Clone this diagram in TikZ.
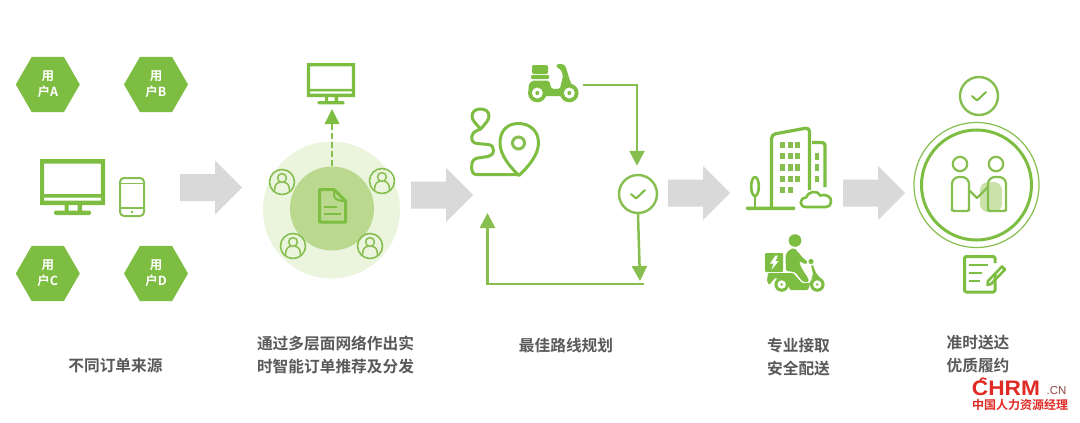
\documentclass[tikz,border=0pt]{standalone}
\usepackage{fontspec}
\setmainfont{Noto Sans CJK SC}[BoldFont={Noto Sans CJK SC Bold}]
\newfontfamily\logofont{Liberation Sans}
\usetikzlibrary{arrows.meta,shapes.geometric,calc}
\definecolor{gr}{HTML}{7DBD42}
\definecolor{grl}{HTML}{86BF4F}
\definecolor{pale}{HTML}{EBF4DC}
\definecolor{mid}{HTML}{BAD98F}
\definecolor{txt}{HTML}{595959}
\definecolor{logored}{HTML}{E02A26}
\tikzset{
  hexnode/.style={regular polygon,regular polygon sides=6,fill=gr,minimum size=64pt,inner sep=0pt,
    text=white,font=\bfseries\fontsize{12.5}{16}\selectfont,align=center},
  bigarrow/.style={fill=black!15,draw=none},
  caption/.style={text=txt,font=\bfseries\fontsize{15.7}{23}\selectfont,align=center},
  ln/.style={draw=grl,line width=2.5pt},
  tipped/.style={ln,-{Triangle[length=15pt,width=15pt]}},
  checkring/.style={circle,draw=grl,line width=2.4pt,minimum size=38pt,inner sep=0pt},
  userring/.style={circle,draw=grl,line width=1.6pt,minimum size=25pt,inner sep=0pt},
  icon/.style={draw=gr,line width=2pt,line join=round,line cap=round}
}
\newcommand{\myarrow}[2]{\fill[bigarrow] (#1,#2-13.5) -- (#1+35,#2-13.5) -- (#1+35,#2-27) -- (#1+62,#2) -- (#1+35,#2+27) -- (#1+35,#2+13.5) -- (#1,#2+13.5) -- cycle;}
\newcommand{\mymonitor}[3]{\begin{scope}[shift={(#1,#2)},scale=#3]
  \fill[gr,even odd rule] (-32.5,0) rectangle (32.5,46) (-28.3,4.5) rectangle (28.3,35) (-28.3,38.5) rectangle (28.3,41.5);
  \fill[gr] (-8,46) rectangle (-4,52) (5,46) rectangle (9.5,52);
  \fill[gr,rounded corners=2pt] (-18.5,51.5) rectangle (18.5,56);
\end{scope}}
\newcommand{\myuser}[1]{\begin{scope}[shift={(#1)}]
  \draw[grl,line width=1.5pt] (0,-4) circle (4.4);
  \draw[grl,line width=1.5pt,line cap=round] (-7.5,8.5) .. controls (-7.5,2) and (-4,0.5) .. (-2.5,0.5) (2.5,0.5) .. controls (4,0.5) and (7.5,2) .. (7.5,8.5);
\end{scope}}
\newcommand{\mycheck}[1]{\draw[icon,line width=2pt] ($(#1)+(-7,0)$) -- ($(#1)+(-2,4.5)$) -- ($(#1)+(7,-4)$);}
\begin{document}
\begin{tikzpicture}[x=1pt,y=-1pt]
\useasboundingbox (0,0) rectangle (1080,423);
\fill[white] (0,0) rectangle (1080,423);

% users
\node[hexnode] (ua) at (47.8,84.5) {用\\户A};
\node[hexnode] (ub) at (156,84.5) {用\\户B};
\node[hexnode] (uc) at (47.8,273.5) {用\\户C};
\node[hexnode] (ud) at (156,273.5) {用\\户D};
\mymonitor{72.5}{159}{1}
\draw[grl,line width=2pt,rounded corners=4pt] (120,178) rectangle (144,216);
\draw[grl,line width=1.6pt] (120,183.5) -- (144,183.5) (120,208) -- (144,208);
\fill[gr] (132,212) circle (1.3);
\myarrow{180}{187.5}

% step 2
\node[circle,fill=pale,minimum size=137pt,inner sep=0pt] (outer) at (331.5,210) {};
\node[circle,fill=mid,minimum size=84pt,inner sep=0pt] (inner) at (332,208.5) {};
\node[userring] (u1) at (282,182) {}; \myuser{282,182}
\node[userring] (u2) at (382,181) {}; \myuser{382,181}
\node[userring] (u3) at (293,246) {}; \myuser{293,246}
\node[userring] (u4) at (370,246) {}; \myuser{370,246}
\draw[icon,line width=3pt] (319.5,189.5) -- (334,189.5) -- (345.5,201) -- (345.5,222) -- (319.5,222) -- cycle;
\draw[icon,line width=2pt] (334,189.5) -- (334,195) .. controls (334,199) and (338,201) .. (345.5,201);
\draw[icon,line width=2.4pt,line cap=butt] (324,206.7) -- (337,206.7) (324,214) -- (341,214);
\mymonitor{331}{63}{0.74}
\coordinate (montip) at (332,109);
\draw[grl,line width=2.5pt,dash pattern=on 6pt off 3pt] (inner.north) -- (332,124);
\fill[gr] (montip) -- (339.5,124) -- (324.5,124) -- cycle;
\myarrow{411}{195}

% step 3
\node[minimum width=49pt,minimum height=39pt,inner sep=0pt] (scooter) at (552.5,84) {};
\fill[gr,rounded corners=2pt] (532,65) rectangle (548,74);
\fill[gr,rounded corners=1pt] (531,75) rectangle (549,79);
\fill[gr,rounded corners=1.5pt] (528.5,92) -- (528.5,85) -- (532,80.7) -- (549,80.7) -- (551.7,89) -- (560,88.7) -- (563,76) -- (560.7,69) -- (556.7,68) -- (556.7,64) -- (563,64) -- (565.5,66) -- (570,81) -- (576,92) -- (565,96) -- (542,96) -- cycle;
\foreach \wx in {537.3,569.3}{
  \fill[gr] (\wx,93) circle (9.3);
  \fill[white] (\wx,93) circle (5.5);
  \fill[gr] (\wx,93) circle (2);
}
\draw[icon,line width=3pt] (480.7,129) .. controls (476,124) and (472,120) .. (472,116.5) .. controls (472,111) and (476,109) .. (480.5,109) .. controls (485,109) and (489,111) .. (489,116.5) .. controls (489,120) and (485,124) .. (480.7,129) -- cycle;
\draw[icon,line width=3pt] (480.7,129) .. controls (473,132) and (471.7,134) .. (471.7,137) .. controls (471.7,141) and (473,143) .. (477,143.5) -- (488,144.5) .. controls (492,145) and (493.5,147) .. (493.5,150) .. controls (493.5,154) and (491,156) .. (488,156.5) -- (478,158) .. controls (474,158.5) and (471.7,161) .. (471.7,166) -- (471.7,169) .. controls (471.7,172) and (473,174.5) .. (477,174.5) -- (519,174.5);
\draw[icon,line width=3pt] (519,175.5) .. controls (510,167) and (500,155) .. (500,143) .. controls (500,130) and (508,123.5) .. (518.5,123.5) .. controls (529,123.5) and (538.5,130) .. (538.5,143) .. controls (538.5,155) and (528,167) .. (519,175.5) -- cycle;
\draw[grl,line width=3pt] (518.5,143) circle (6);
\node[checkring] (chk) at (638,194) {};
\mycheck{638,194}
\coordinate (downtip) at (640,281);
\coordinate (loopstart) at (644,284);
\coordinate (looptip) at (487.5,213);
\draw[tipped] (scooter.east) ++(6,1) -| ($(chk.north)+(-1,-8)$);
\draw[tipped] (chk.south) -- (downtip);
\draw[tipped] (loopstart) -| (looptip);
\myarrow{668}{193}

% step 4
\fill[gr,rounded corners=1pt] (746,206.5) rectangle (795,210);
\draw[icon,line width=3.2pt,line cap=butt,rounded corners=4pt] (771.5,208) -- (771.5,134.5) -- (809.5,127.5) -- (809.5,190);
\draw[icon,line width=3.2pt,line cap=butt,rounded corners=3pt] (812,142.5) -- (825,142.5) -- (825,187);
\foreach \yy/\hh in {142/6,153/6,164/7,176/6}{
  \foreach \xx/\ww in {780/5,788/4.5,795/4.5}{\fill[grl] (\xx,\yy) rectangle ++(\ww,\hh);}
}
\foreach \xx/\ww in {780/5,788/4.5}{\fill[grl] (\xx,187) rectangle ++(\ww,6);}
\foreach \yy/\hh in {153/7,164/7,176/6}{\fill[grl] (815,\yy) rectangle ++(4,\hh);}
\draw[icon,line width=2.6pt] (755,186.5) ellipse (3.8 and 9.5);
\draw[icon,line width=2.6pt] (755,196) -- (755,208);
\draw[icon,line width=2.6pt] (806,207) .. controls (799,207) and (799,198) .. (806,197.5) .. controls (808,191.5) and (817,189.5) .. (820,195.5) .. controls (826,193.5) and (832,197) .. (831,202) .. controls (831,205) and (829,207) .. (826,207) -- cycle;
% rider
\fill[gr] (795,240.5) circle (6.3);
\fill[gr,rounded corners=1pt] (765,253) rectangle (783,272);
\fill[white] (775.5,255.5) -- (770,263.5) -- (773.5,263.5) -- (771.5,270) -- (778.5,261) -- (775.5,261) -- (778,255.5) -- cycle;
% torso and leg
\fill[gr,rounded corners=1.5pt] (785.5,255) -- (789,250) -- (794,248) -- (798,252) -- (803,258) -- (808,262) -- (806,264.5) -- (799,261) -- (801,267) -- (804,272) -- (808,278) -- (809,282) -- (803,282) -- (795,272) -- (786,271) -- cycle;
% scooter body
\fill[gr,rounded corners=1pt] (768,273) -- (793,273) -- (802,283) -- (810,283) -- (813,274) -- (811,265) -- (813,265) -- (816,273) -- (823,281) -- (812,278) -- (808,290) -- (790,290) -- (787,281) -- (775,278) -- (769,285) -- (767,281) -- cycle;
\fill[gr] (811,261.5) circle (2.6);
\foreach \wx in {781.7,817.3}{
  \fill[gr] (\wx,284.5) circle (7.3);
  \fill[white] (\wx,284.5) circle (4.2);
  \fill[gr] (\wx,284.5) circle (1.4);
}
\myarrow{843}{193}

% step 5
\node[checkring] (chk2) at (979,96) {};
\mycheck{979,96}
\node[circle,draw=grl,line width=1.2pt,minimum size=125pt,inner sep=0pt] (ring1) at (976.5,185) {};
\node[circle,draw=gr,line width=3pt,minimum size=110pt,inner sep=0pt] (ring2) at (976.5,185) {};
\fill[mid!75,rounded corners=8pt] (980,212) -- (980,182) -- (1002,182) -- (1002,212) -- cycle;
\draw[grl,line width=2.2pt] (960,164) circle (7.2) (996,164) circle (7.2);
\draw[grl,line width=2.2pt,rounded corners=7pt] (952,211) -- (952,177) -- (969,177) -- (969,211);
\draw[grl,line width=2.2pt,rounded corners=2pt] (952,209) -- (952,211) -- (969,211) -- (969,209);
\draw[grl,line width=2.2pt,rounded corners=7pt] (988,211) -- (988,177) -- (1006,177) -- (1006,211);
\draw[grl,line width=2.2pt,rounded corners=2pt] (988,209) -- (988,211) -- (1006,211) -- (1006,209);
\draw[grl,line width=2.2pt,line join=round] (969,190) -- (977,198) -- (988,187);
% note
\draw[icon,line width=3pt,rounded corners=1.5pt,line cap=butt] (995,274) -- (995,292) -- (964.5,292) -- (964.5,256.5) -- (995,256.5) -- (995,263);
\draw[icon,line width=2.4pt,line cap=butt] (969,265) -- (988,265) (969,273) -- (982,273) (969,281) -- (980,281);
\draw[icon,line width=2.6pt] (988,281) -- (987.5,285) -- (991,284) -- (1005,269.5) -- (1002,266.5) -- cycle;

% captions
\node[caption] (c1) at (115.5,366) {不同订单来源};
\node[caption] (c2) at (335.5,354.5) {通过多层面网络作出实\\时智能订单推荐及分发};
\node[caption] (c3) at (566,346) {最佳路线规划};
\node[caption] (c4) at (798.5,357.5) {专业接取\\安全配送};
\node[caption] (c5) at (978,354.5) {准时送达\\优质履约};

% logo
\draw[logored,line width=1.6pt,line cap=round] (980,381) .. controls (981,378) and (984,377) .. (986,379);
\node[inner sep=0pt,text=logored] (chrm) at (1006,388.5) {\logofont\bfseries\fontsize{21}{21}\selectfont\scalebox{1.08}[1]{CHRM}};
\node[inner sep=0pt,text=txt!60!logored] (cn) at (1056.5,391) {\logofont\fontsize{11.5}{12}\selectfont .CN};
\node[inner sep=0pt,text=logored] (cnname) at (1020,404.5) {\bfseries\fontsize{12}{12}\selectfont 中国人力资源经理};
\end{tikzpicture}
\end{document}
